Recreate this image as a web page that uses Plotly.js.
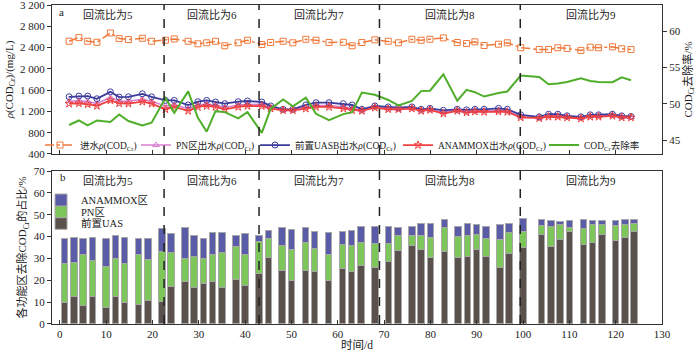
<!DOCTYPE html>
<html><head><meta charset="utf-8">
<script src="https://cdn.plot.ly/plotly-3.0.1.min.js"></script>
<style>html,body{margin:0;padding:0;background:#fff}#chart{width:700px;height:351px}</style>
</head><body><div id="chart"></div>
<script>
// ---- data ----
const dayTop = [2.0,4.1,6.0,8.0,10.9,12.8,14.8,17.8,19.8,22.8,24.7,27.7,29.8,31.7,33.6,35.6,38.5,40.5,43.6,45.5,48.2,50.3,53.1,55.3,58.1,61.2,63.1,65.2,68.0,70.9,73.1,76.0,78.0,79.9,82.8,85.8,87.8,89.6,91.6,94.7,96.6,99.5,103.5,105.5,107.5,109.5,112.5,114.5,116.3,119.3,121.3,123.3];
const influent = [2519,2588,2519,2500,2675,2569,2551,2575,2519,2538,2563,2519,2471,2490,2519,2434,2490,2538,2458,2495,2519,2490,2556,2538,2495,2500,2434,2495,2545,2519,2490,2556,2538,2556,2582,2495,2476,2508,2439,2463,2490,2397,2365,2365,2397,2384,2347,2408,2397,2415,2378,2365];
const pnOut = [1390,1400,1385,1350,1460,1390,1390,1430,1390,1300,1325,1250,1320,1340,1315,1275,1320,1335,1330,1270,1230,1230,1275,1310,1310,1285,1255,1220,1282,1255,1250,1263,1220,1238,1180,1220,1195,1210,1207,1217,1207,1102,1082,1115,1115,1096,1078,1111,1111,1127,1096,1092];
const uasbOut = [1475,1488,1488,1438,1568,1470,1475,1531,1475,1407,1407,1321,1383,1407,1377,1346,1383,1396,1377,1303,1240,1240,1321,1364,1364,1346,1321,1240,1303,1284,1271,1284,1240,1258,1221,1240,1229,1240,1240,1258,1240,1136,1099,1147,1147,1117,1099,1136,1136,1147,1117,1105];
const amxOut = [1346,1351,1333,1303,1407,1351,1346,1383,1346,1240,1284,1210,1284,1303,1284,1240,1284,1303,1300,1253,1221,1221,1253,1284,1284,1253,1221,1210,1271,1240,1240,1253,1210,1228,1160,1210,1179,1197,1191,1197,1191,1086,1073,1099,1099,1086,1067,1099,1099,1117,1086,1086];
const removal = [47.09,47.71,47.03,47.71,47.50,48.53,47.63,47.03,47.40,50.80,48.76,51.71,48.08,46.18,48.99,48.86,47.99,48.86,46.0,49.3,50.6,49.67,50.84,48.63,47.74,48.58,48.86,51.55,51.25,50.53,49.78,50.4,51.75,51.8,54.05,50.43,51.93,51.6,51.0,51.5,51.7,53.9,53.7,52.7,52.8,53.0,53.5,53.15,53.0,52.97,53.65,53.25];

const dayBar = [1,3,5,7,10,12,14,17,19,22,24,27,29,31,33,35,38,40,43,45,48,50,53,55,58,61,63,65,68,71,73,76,78,80,83,86,88,90,92,95,97,100,104,106,108,110,113,115,117,120,122,124];
const shareUASB = [9.9,12.4,8.5,12.4,7.6,12.8,9.9,8.8,10.7,10.5,17.1,19.5,16.6,18.6,19.5,16.9,20.4,17.5,23.0,30.5,24.7,20.1,24.6,24.1,20.1,25.3,24.2,26.8,25.8,28.8,33.6,35.8,33.9,30.3,33.4,30.3,31.0,34.2,30.7,25.8,32.3,34.9,41.2,35.7,38.9,42.5,36.3,37.5,41.0,38.4,39.7,42.2];
const sharePN = [17.9,15.7,23.4,16.9,18.9,17.2,17.9,23.1,18.7,22.7,15.7,10.7,14.1,11.6,12.1,15.9,15.3,14.5,14.7,8.8,11.1,14.1,12.5,10.5,11.8,11.0,11.6,10.7,11.1,8.1,7.0,4.8,6.7,9.5,11.0,9.8,9.7,7.0,8.3,12.8,9.5,7.6,3.8,8.8,6.5,1.9,7.5,7.9,4.6,6.7,5.7,4.0];
const shareAMX = [11.2,11.4,7.1,10.2,12.8,10.3,11.7,7.1,9.9,10.3,8.7,13.9,10.0,9.1,10.2,9.0,5.0,9.6,2.6,3.7,8.3,9.1,7.3,7.9,9.9,6.1,6.9,7.3,7.8,7.6,3.5,4.1,5.3,6.1,3.6,4.7,5.4,4.2,5.8,7.0,4.1,5.8,3.0,2.8,1.7,3.0,4.2,2.2,1.8,2.3,2.6,1.5];

const phaseBounds = [22.5, 43, 69, 99.4];
const phaseLabels = ['回流比为5','回流比为6','回流比为7','回流比为8','回流比为9'];
const xMin = -1.7, xMax = 130;

const FONT = 'Liberation Serif, "Noto Sans CJK SC", serif';
const COD = 'COD<sub>Cr</sub>';

const lineTrace = (y, name, color, sym, dash, w, lg) => ({
  x: dayTop, y: y, name: name, type: 'scatter', mode: 'lines+markers',
  xaxis: 'x2', yaxis: 'y', legend: lg,
  line: {color: color, width: w, dash: dash},
  marker: {symbol: sym, size: 6, color: color, line: {color: color, width: 1}}
});

const traces = [
  lineTrace(influent, '进水<i>ρ</i>(' + COD + ')', '#f07a3c', 'square-open', 'dashdot', 1.5, 'legend'),
  lineTrace(pnOut, 'PN区出水<i>ρ</i>(' + COD + ')', '#d77fd0', 'triangle-up-open', 'solid', 1.5, 'legend3'),
  lineTrace(uasbOut, '前置UASB出水<i>ρ</i>(' + COD + ')', '#3c3c9c', 'circle-open-dot', 'solid', 1.8, 'legend4'),
  lineTrace(amxOut, 'ANAMMOX出水<i>ρ</i>(' + COD + ')', '#ee4040', 'star-open', 'solid', 1.8, 'legend5'),
  {x: dayTop, y: removal, name: COD + '去除率', type: 'scatter', mode: 'lines',
   xaxis: 'x2', yaxis: 'y2', legend: 'legend6', line: {color: '#4fae2a', width: 2}},
];
const barStyle = (y, name, color, lg) => ({
  x: dayBar, y: y, name: name, type: 'bar', xaxis: 'x', yaxis: 'y3', legend: lg,
  width: 1.4, marker: {color: color, line: {color: '#a8a8a8', width: 1}}
});
traces.push(barStyle(shareUASB, '前置UAS', '#5a514d', 'legend8'));
traces.push(barStyle(sharePN, 'PN区', '#7cc65a', 'legend7'));
traces.push(barStyle(shareAMX, 'ANAMMOX区', '#5b5ca8', 'legend2'));

const shapes = [];
phaseBounds.forEach(b => {
  ['y domain', 'y3 domain'].forEach(r => shapes.push({
    type: 'line', xref: r === 'y domain' ? 'x2' : 'x', yref: r, x0: b, x1: b, y0: 0, y1: 1,
    line: {color: '#222', width: 1.5, dash: 'dash'}
  }));
});
const edges = [xMin].concat(phaseBounds).concat([xMax]);
const annotations = [];
phaseLabels.forEach((t, i) => {
  const cx = (edges[i] + edges[i + 1]) / 2;
  annotations.push({text: t, x: cx, xref: 'x2', y: 0.935, yref: 'y domain', yanchor: 'middle', showarrow: false, font: {size: 11}});
  annotations.push({text: t, x: cx, xref: 'x', y: 0.94, yref: 'y3 domain', yanchor: 'middle', showarrow: false, font: {size: 11}});
});
annotations.push({text: 'a', x: 0.008, xref: 'paper', y: 0.955, yref: 'y domain', yanchor: 'middle', showarrow: false, font: {size: 11}, xanchor: 'left'});
annotations.push({text: 'b', x: 0.01, xref: 'paper', y: 0.96, yref: 'y3 domain', yanchor: 'middle', showarrow: false, font: {size: 11}, xanchor: 'left'});

const axBase = {showline: true, linecolor: '#333', linewidth: 1, mirror: true, zeroline: false, showgrid: false,
  tickcolor: '#333', ticklen: 4, tickfont: {size: 11, color: '#222'}, ticklabeloverflow: 'allow'};

const lg = (x, y, fs) => ({orientation: 'v', x: x, xanchor: 'left', y: y, yanchor: 'middle',
  bgcolor: 'rgba(0,0,0,0)', font: {size: fs}, itemwidth: 30, tracegroupgap: 0});

const layout = {
  width: 700, height: 351,
  margin: {l: 52, r: 38, t: 5, b: 27},
  paper_bgcolor: '#fff', plot_bgcolor: '#fff',
  font: {family: FONT, size: 11, color: '#222'},
  separators: '. ',
  barmode: 'stack',
  showlegend: true,
  xaxis: Object.assign({}, axBase, {domain: [0, 1], anchor: 'y3', range: [xMin, xMax], dtick: 10, tick0: 0, ticks: 'inside',
    title: {text: '时间/d', font: {size: 11.5}, standoff: 2}}),
  xaxis2: Object.assign({}, axBase, {domain: [0, 1], anchor: 'y', range: [xMin, xMax], dtick: 10, tick0: 0, ticks: 'inside', showticklabels: false}),
  yaxis: Object.assign({}, axBase, {domain: [0.533, 1], anchor: 'x2', range: [400, 3200.5], dtick: 400, tick0: 400, ticks: 'outside', separatethousands: true,
    title: {text: '<i>ρ</i>(' + COD + ')/(mg/L)', font: {size: 11}, standoff: 4}}),
  yaxis2: Object.assign({}, axBase, {anchor: 'x2', overlaying: 'y', side: 'right', range: [43.1, 63.6], dtick: 5, tick0: 45, ticks: 'outside', showline: false, mirror: false,
    title: {text: COD + '去除率/%', font: {size: 11}, standoff: 4}}),
  yaxis3: Object.assign({}, axBase, {domain: [0, 0.4796], anchor: 'x', range: [0, 70.05], dtick: 10, ticks: 'outside',
    title: {text: '各功能区去除' + COD + '的占比/%', font: {size: 11}, standoff: 4}}),
  legend: lg(-0.0197, 0.561, 9.5),
  legend3: lg(0.1377, 0.561, 9.5),
  legend4: lg(0.3328, 0.561, 9.5),
  legend5: lg(0.5672, 0.561, 9.5),
  legend6: lg(0.8066, 0.561, 9.5),
  legend2: lg(-0.018, 0.3887, 10.5),
  legend7: lg(-0.018, 0.352, 10.5),
  legend8: lg(-0.018, 0.3157, 10.5),
  shapes: shapes,
  annotations: annotations
};

Plotly.newPlot('chart', traces, layout, {displayModeBar: false, staticPlot: true});
</script></body></html>
